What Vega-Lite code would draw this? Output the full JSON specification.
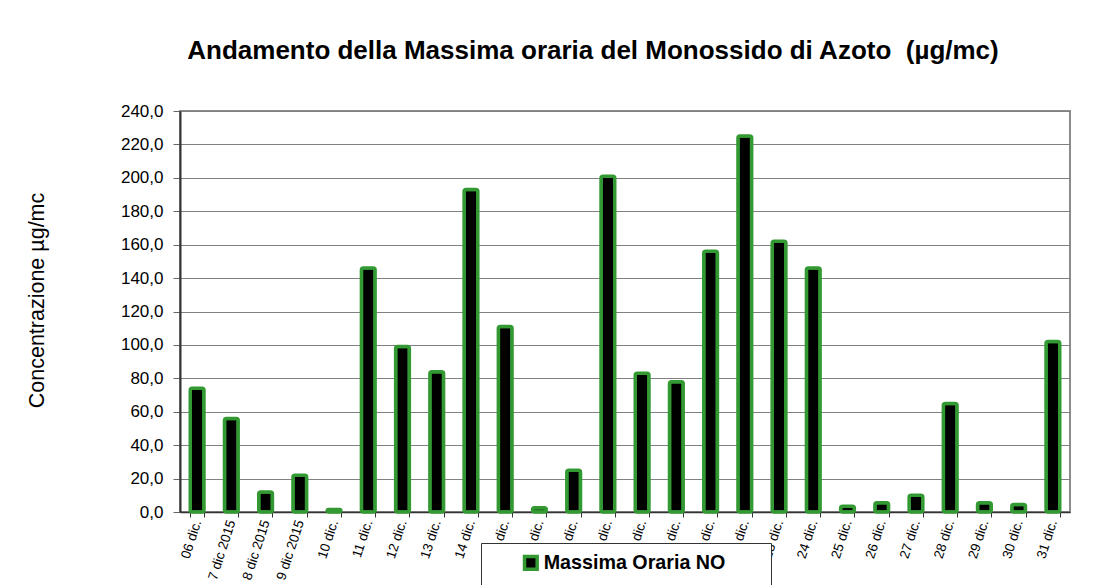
{
  "$schema": "https://vega.github.io/schema/vega-lite/v6.json",
  "autosize": {"type": "none"},
  "width": 890,
  "height": 401,
  "padding": {"left": 180, "top": 111, "right": 27, "bottom": 73},
  "background": "white",
  "config": {
    "font": "Liberation Sans",
    "view": {"stroke": "#8c8c8c", "strokeWidth": 2},
    "title": {"fontSize": 26, "fontWeight": "bold", "color": "black", "offset": 38, "baseline": "alphabetic", "dx": -32}
  },
  "title": {"text": "Andamento della Massima oraria del Monossido di Azoto \u00a0(µg/mc)"},
  "data": {
    "values": [
      {"giorno": "06 dic.", "valore": 74, "serie": "Massima Oraria NO"},
      {"giorno": "7 dic 2015", "valore": 56, "serie": "Massima Oraria NO"},
      {"giorno": "8 dic 2015", "valore": 12, "serie": "Massima Oraria NO"},
      {"giorno": "9 dic 2015", "valore": 22, "serie": "Massima Oraria NO"},
      {"giorno": "10 dic.", "valore": 1.5, "serie": "Massima Oraria NO"},
      {"giorno": "11 dic.", "valore": 146, "serie": "Massima Oraria NO"},
      {"giorno": "12 dic.", "valore": 99, "serie": "Massima Oraria NO"},
      {"giorno": "13 dic.", "valore": 84, "serie": "Massima Oraria NO"},
      {"giorno": "14 dic.", "valore": 193, "serie": "Massima Oraria NO"},
      {"giorno": "15 dic.", "valore": 111, "serie": "Massima Oraria NO"},
      {"giorno": "16 dic.", "valore": 2.5, "serie": "Massima Oraria NO"},
      {"giorno": "17 dic.", "valore": 25, "serie": "Massima Oraria NO"},
      {"giorno": "18 dic.", "valore": 201, "serie": "Massima Oraria NO"},
      {"giorno": "19 dic.", "valore": 83, "serie": "Massima Oraria NO"},
      {"giorno": "20 dic.", "valore": 78, "serie": "Massima Oraria NO"},
      {"giorno": "21 dic.", "valore": 156, "serie": "Massima Oraria NO"},
      {"giorno": "22 dic.", "valore": 225, "serie": "Massima Oraria NO"},
      {"giorno": "23 dic.", "valore": 162, "serie": "Massima Oraria NO"},
      {"giorno": "24 dic.", "valore": 146, "serie": "Massima Oraria NO"},
      {"giorno": "25 dic.", "valore": 3.5, "serie": "Massima Oraria NO"},
      {"giorno": "26 dic.", "valore": 5.5, "serie": "Massima Oraria NO"},
      {"giorno": "27 dic.", "valore": 10, "serie": "Massima Oraria NO"},
      {"giorno": "28 dic.", "valore": 65, "serie": "Massima Oraria NO"},
      {"giorno": "29 dic.", "valore": 5.5, "serie": "Massima Oraria NO"},
      {"giorno": "30 dic.", "valore": 4.5, "serie": "Massima Oraria NO"},
      {"giorno": "31 dic.", "valore": 102, "serie": "Massima Oraria NO"}
    ]
  },
  "mark": {"type": "bar", "stroke": "#339933", "strokeWidth": 3.5, "cornerRadius": 2},
  "encoding": {
    "x": {
      "field": "giorno", "type": "nominal", "sort": null,
      "scale": {"paddingInner": 0.6, "paddingOuter": 0.3},
      "axis": {
        "title": null, "labelAngle": -72, "labelFontSize": 13.5, "labelColor": "black",
        "tickBand": "extent", "tickSize": 5, "tickColor": "#333", "domainColor": "#333",
        "domainWidth": 1.5, "labelPadding": 3, "labelOverlap": false, "labelLimit": 200
      }
    },
    "y": {
      "field": "valore", "type": "quantitative",
      "scale": {"domain": [0, 240], "nice": false},
      "axis": {
        "values": [0, 20, 40, 60, 80, 100, 120, 140, 160, 180, 200, 220, 240],
        "labelExpr": "replace(format(datum.value, '.1f'), '.', ',')",
        "labelFontSize": 17, "labelColor": "black", "labelPadding": 10,
        "tickSize": 7, "tickColor": "#666", "domainColor": "#333", "domainWidth": 2,
        "gridColor": "#808080", "gridWidth": 1,
        "title": "Concentrazione µg/mc", "titleFontSize": 21.5, "titleFontWeight": "normal",
        "titleColor": "black", "titleX": -143, "titleY": 189, "titleAngle": -90,
        "titleAlign": "center", "titleBaseline": "middle"
      }
    },
    "color": {
      "field": "serie", "type": "nominal",
      "scale": {"range": ["black"]},
      "legend": {
        "title": "\u00a0", "titleOrient": "right", "titlePadding": 36, "titleFontSize": 10,
        "orient": "none", "legendX": 301, "legendY": 432,
        "fillColor": "white", "strokeColor": "#333", "padding": 10,
        "symbolType": "square", "symbolSize": 160, "symbolStrokeColor": "#339933",
        "symbolStrokeWidth": 3.5, "symbolOffset": 30, "labelLimit": 400,
        "labelFontSize": 19.7, "labelFontWeight": "bold", "labelColor": "black", "labelOffset": 3
      }
    }
  }
}
